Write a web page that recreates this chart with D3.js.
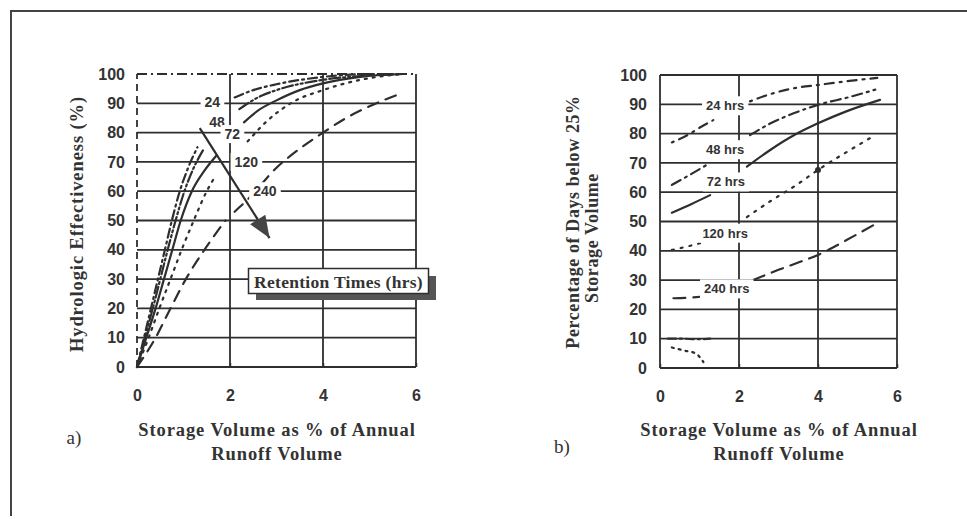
<!DOCTYPE html>
<html><head><meta charset="utf-8">
<script src="https://cdn.jsdelivr.net/npm/d3@7"></script>
<style>
html,body{margin:0;padding:0;background:#fff;}
svg{display:block;}
</style></head>
<body>
<svg id="c" width="967" height="519"></svg>
<script>
// ---------- DATA ----------
const xTicks = [0, 2, 4, 6];
const yTicks = [0, 10, 20, 30, 40, 50, 60, 70, 80, 90, 100];
const seriesNamesA = ["24", "48", "72", "120", "240"];
const seriesNamesB = ["24 hrs", "48 hrs", "72 hrs", "120 hrs", "240 hrs"];

// Chart a) Hydrologic Effectiveness (%) – each curve split into a lower and upper piece
const a24Lower = [[0,0],[0.15,10],[0.3,20],[0.45,30],[0.6,40],[0.75,50],[0.92,60],[1.1,68],[1.3,75]];
const a24Upper = [[2.1,92],[2.5,94.5],[3,96.5],[4,99],[5,100],[5.7,100]];
const a48Lower = [[0,0],[0.17,10],[0.34,20],[0.5,30],[0.66,40],[0.83,50],[1.02,60],[1.22,68],[1.42,74]];
const a48Upper = [[2.2,88],[2.6,92],[3,94.5],[4,98],[5,99.5],[5.7,100]];
const a72Lower = [[0,0],[0.2,10],[0.4,20],[0.58,30],[0.76,40],[0.94,50],[1.18,60],[1.45,67],[1.7,72]];
const a72Upper = [[2.3,83.5],[2.6,87.5],[3,91],[3.5,94.5],[4,96.8],[4.8,99],[5.7,100]];
const a120Lower = [[0,0],[0.25,10],[0.48,20],[0.72,30],[0.96,40],[1.22,50],[1.5,60],[1.68,65]];
const a120Upper = [[2.38,77],[2.8,84],[3.36,90.5],[4,94.5],[4.8,98],[5.7,100]];
const a240Lower = [[0,0],[0.4,10],[0.72,20],[1.05,30],[1.45,40],[1.9,50]];
const a240Upper = [[2.1,53],[2.4,57.5],[3,68],[3.5,74.5],[4,80],[4.5,85],[5,89],[5.7,93.5]];
const aLabelPos = [[1.62,90.5],[1.72,83.5],[2.05,79.5],[2.35,70],[2.75,60]];
const arrowFrom = [1.35, 81.5];
const arrowTo = [2.85, 44];
const legendText = "Retention Times (hrs)";

// Chart b) Percentage of Days below 25% Storage Volume
const b24Lower = [[0.3,77],[0.7,79.5],[1.0,82],[1.35,84.6]];
const b24Upper = [[2.28,91],[2.8,93.5],[3.4,95.5],[4,96.6],[4.8,98],[5.5,99]];
const b48Lower = [[0.3,62.5],[0.7,65.5],[1.18,69.3]];
const b48Upper = [[2.28,79.5],[2.8,83.5],[3.4,87],[4,89.8],[4.8,92.5],[5.45,95]];
const b72Lower = [[0.3,53],[0.8,56],[1.27,59]];
const b72Upper = [[2.2,68.7],[2.8,74.5],[3.4,79.5],[4,83.5],[4.7,87.5],[5.57,91.5]];
const b120Lower = [[0.3,40.3],[0.7,41.5],[1.18,43.2]];
const b120Upper = [[2.2,51.5],[2.8,57],[3.4,62],[4,67.6],[4.7,73.5],[5.45,79.5]];
const b240Lower = [[0.34,23.8],[0.7,24],[1.1,24.4]];
const b240Upper = [[2.36,30],[3,33.5],[3.5,36],[4,38.6],[4.7,43.5],[5.5,49.5]];
const bSmallA = [[0.2,10],[0.6,10],[0.9,9.8],[1.27,10]];
const bSmallB = [[0.3,7],[0.6,6],[0.9,5],[1.1,2]];
const bLabelPos = [[1.65,89.5],[1.65,74.5],[1.67,63.5],[1.65,46],[1.69,27]];
const b120Marker = [4.0, 67.6];

// ---------- STYLE ----------
const ink = "#2e2e2e";
const dashA = {"24":"9,4,2,4", "48":"11,3,2,3,2,3", "72":null, "120":"2,6", "240":"11,8"};
const dashB = {"24 hrs":"2,6,9,6", "48 hrs":"10,5,2,5", "72 hrs":null, "120 hrs":"2,7", "240 hrs":"12,8"};

const svg = d3.select("#c");

// outer frame
svg.append("line").attr("x1",10).attr("x2",967).attr("y1",11).attr("y2",11).attr("stroke","#444").attr("stroke-width",2);
svg.append("line").attr("x1",11).attr("x2",11).attr("y1",10).attr("y2",516).attr("stroke","#444").attr("stroke-width",2);

function buildPanel(opt){
  const x = d3.scaleLinear().domain([0,6]).range([opt.x0, opt.x1]);
  const y = d3.scaleLinear().domain([0,100]).range([opt.y0, opt.y1]);
  const g = svg.append("g");
  // horizontal grid
  g.append("g").selectAll("line").data(yTicks.filter(d=>d>0 && d<100)).join("line")
    .attr("x1",x(0)).attr("x2",x(6)).attr("y1",d=>y(d)).attr("y2",d=>y(d))
    .attr("stroke",ink).attr("stroke-width",1.8);
  // vertical grid
  g.append("g").selectAll("line").data(xTicks.filter(d=>d>0 && d<6)).join("line")
    .attr("x1",d=>x(d)).attr("x2",d=>x(d)).attr("y1",y(0)).attr("y2",y(100))
    .attr("stroke",ink).attr("stroke-width",1.8);
  // borders
  const b = [
    {x1:x(0),y1:y(100),x2:x(6),y2:y(100),dash:opt.topDash},
    {x1:x(0),y1:y(0),x2:x(0),y2:y(100),dash:opt.leftDash},
    {x1:x(6),y1:y(0),x2:x(6),y2:y(100),dash:null},
    {x1:x(0),y1:y(0),x2:x(6),y2:y(0),dash:null}
  ];
  g.append("g").selectAll("line").data(b).join("line")
    .attr("x1",d=>d.x1).attr("x2",d=>d.x2).attr("y1",d=>d.y1).attr("y2",d=>d.y2)
    .attr("stroke",ink).attr("stroke-width",1.8).attr("stroke-dasharray",d=>d.dash);
  // axes (labels)
  const xAx = g.append("g").attr("transform",`translate(0,${y(0)})`)
    .call(d3.axisBottom(x).tickValues(xTicks).tickFormat(d3.format("d")).tickSize(4).tickPadding(19));
  xAx.select(".domain").remove();
  xAx.selectAll("line").attr("stroke",ink).attr("stroke-width",1.5).attr("transform","translate(0,-4)");
  xAx.selectAll("text").attr("font-family","Liberation Sans, Arial, sans-serif").attr("font-weight","bold")
     .attr("font-size",16).attr("fill","#333");
  const yAx = g.append("g").attr("transform",`translate(${x(0)},0)`)
    .call(d3.axisLeft(y).tickValues(yTicks).tickSize(0).tickPadding(opt.yPad));
  yAx.select(".domain").remove();
  yAx.selectAll("text").attr("font-family","Liberation Sans, Arial, sans-serif").attr("font-weight","bold")
     .attr("font-size",16).attr("fill","#333");
  return {x,y,g};
}

function drawCurve(p, pts, dash){
  const line = d3.line().x(d=>p.x(d[0])).y(d=>p.y(d[1])).curve(d3.curveMonotoneX);
  p.g.append("path").attr("d",line(pts)).attr("fill","none").attr("stroke",ink)
    .attr("stroke-width",2.2).attr("stroke-dasharray",dash).attr("stroke-linecap","round");
}

function label(p, txt, pos, size, weight, padX, padY){
  const t = p.g.append("text").attr("x",p.x(pos[0])).attr("y",p.y(pos[1]))
    .attr("text-anchor","middle").attr("dominant-baseline","central")
    .attr("font-family","Liberation Sans, Arial, sans-serif").attr("font-size",size)
    .attr("font-weight",weight).attr("fill","#333").text(txt);
  const bb = t.node().getBBox();
  p.g.insert("rect", () => t.node()).attr("x",bb.x-padX).attr("y",bb.y-padY)
    .attr("width",bb.width+2*padX).attr("height",bb.height+2*padY).attr("fill","#fff");
}

// ---------- PANEL A ----------
const A = buildPanel({x0:137,x1:416,y0:367,y1:74,topDash:"10,4,2,4",leftDash:"7,5",yPad:12});
const aCurves = [[a24Lower,a24Upper],[a48Lower,a48Upper],[a72Lower,a72Upper],[a120Lower,a120Upper],[a240Lower,a240Upper]];
seriesNamesA.forEach((n,i)=>{ aCurves[i].forEach(seg=>drawCurve(A, seg, dashA[n])); });
seriesNamesA.forEach((n,i)=> label(A, n, aLabelPos[i], 14, "bold", 4, 1));
// arrow
A.g.append("line").attr("x1",A.x(arrowFrom[0])).attr("y1",A.y(arrowFrom[1]))
  .attr("x2",A.x(arrowTo[0])).attr("y2",A.y(arrowTo[1])).attr("stroke",ink).attr("stroke-width",2.2);
{
  const x1=A.x(arrowFrom[0]), y1=A.y(arrowFrom[1]), x2=A.x(arrowTo[0]), y2=A.y(arrowTo[1]);
  const ang = Math.atan2(y2-y1,x2-x1), L=22, W=9;
  const bx = x2 - L*Math.cos(ang), by = y2 - L*Math.sin(ang);
  const px = -Math.sin(ang)*W, py = Math.cos(ang)*W;
  A.g.append("path").attr("d",`M${x2},${y2}L${bx+px},${by+py}L${bx-px},${by-py}Z`).attr("fill","#444");
}
// legend box
A.g.append("rect").attr("x",256).attr("y",276).attr("width",180).attr("height",24).attr("fill","#555");
A.g.append("rect").attr("x",248.5).attr("y",268.5).attr("width",180).attr("height",25)
  .attr("fill","#fff").attr("stroke",ink).attr("stroke-width",1.5);
A.g.append("text").attr("x",338.5).attr("y",282).attr("text-anchor","middle").attr("dominant-baseline","central")
  .attr("font-family","Liberation Serif, Times New Roman, serif").attr("font-size",17.5).attr("font-weight","bold")
  .attr("letter-spacing",0.3).attr("fill","#333").text(legendText);

// ---------- PANEL B ----------
const B = buildPanel({x0:660,x1:897,y0:368,y1:75,topDash:null,leftDash:null,yPad:13});
const bCurves = [[b24Lower,b24Upper],[b48Lower,b48Upper],[b72Lower,b72Upper],[b120Lower,b120Upper],[b240Lower,b240Upper]];
seriesNamesB.forEach((n,i)=>{ bCurves[i].forEach(seg=>drawCurve(B, seg, dashB[n])); });
drawCurve(B, bSmallA, "8,4,2,4");
drawCurve(B, bSmallB, "2,5");
seriesNamesB.forEach((n,i)=> label(B, n, bLabelPos[i], 13, "bold", 4, 2));
B.g.append("circle").attr("cx",B.x(b120Marker[0])).attr("cy",B.y(b120Marker[1])).attr("r",3).attr("fill",ink);

// ---------- TITLES ----------
const serif = "Liberation Serif, Times New Roman, serif";
function txt(x,y,s,size,weight,rot,ls){
  const t = svg.append("text").attr("x",x).attr("y",y).attr("text-anchor","middle")
    .attr("dominant-baseline","central").attr("font-family",serif).attr("font-size",size)
    .attr("font-weight",weight).attr("fill","#333").attr("letter-spacing",ls||0).text(s);
  if(rot) t.attr("transform",`rotate(-90,${x},${y})`);
  return t;
}
txt(77,224,"Hydrologic Effectiveness (%)",18.5,"bold",true,0.9);
txt(573,222,"Percentage of Days below 25%",18,"bold",true,0.6);
txt(592,238,"Storage Volume",18,"bold",true,0.6);
txt(277,430,"Storage Volume as % of Annual",18.5,"bold",false,0.9);
txt(277,454,"Runoff Volume",18.5,"bold",false,0.9);
txt(779,430,"Storage Volume as % of Annual",18.5,"bold",false,0.9);
txt(779,454,"Runoff Volume",18.5,"bold",false,0.9);
txt(74,437,"a)",19,"normal",false,0);
txt(562,446,"b)",19,"normal",false,0);
</script>
</body></html>
